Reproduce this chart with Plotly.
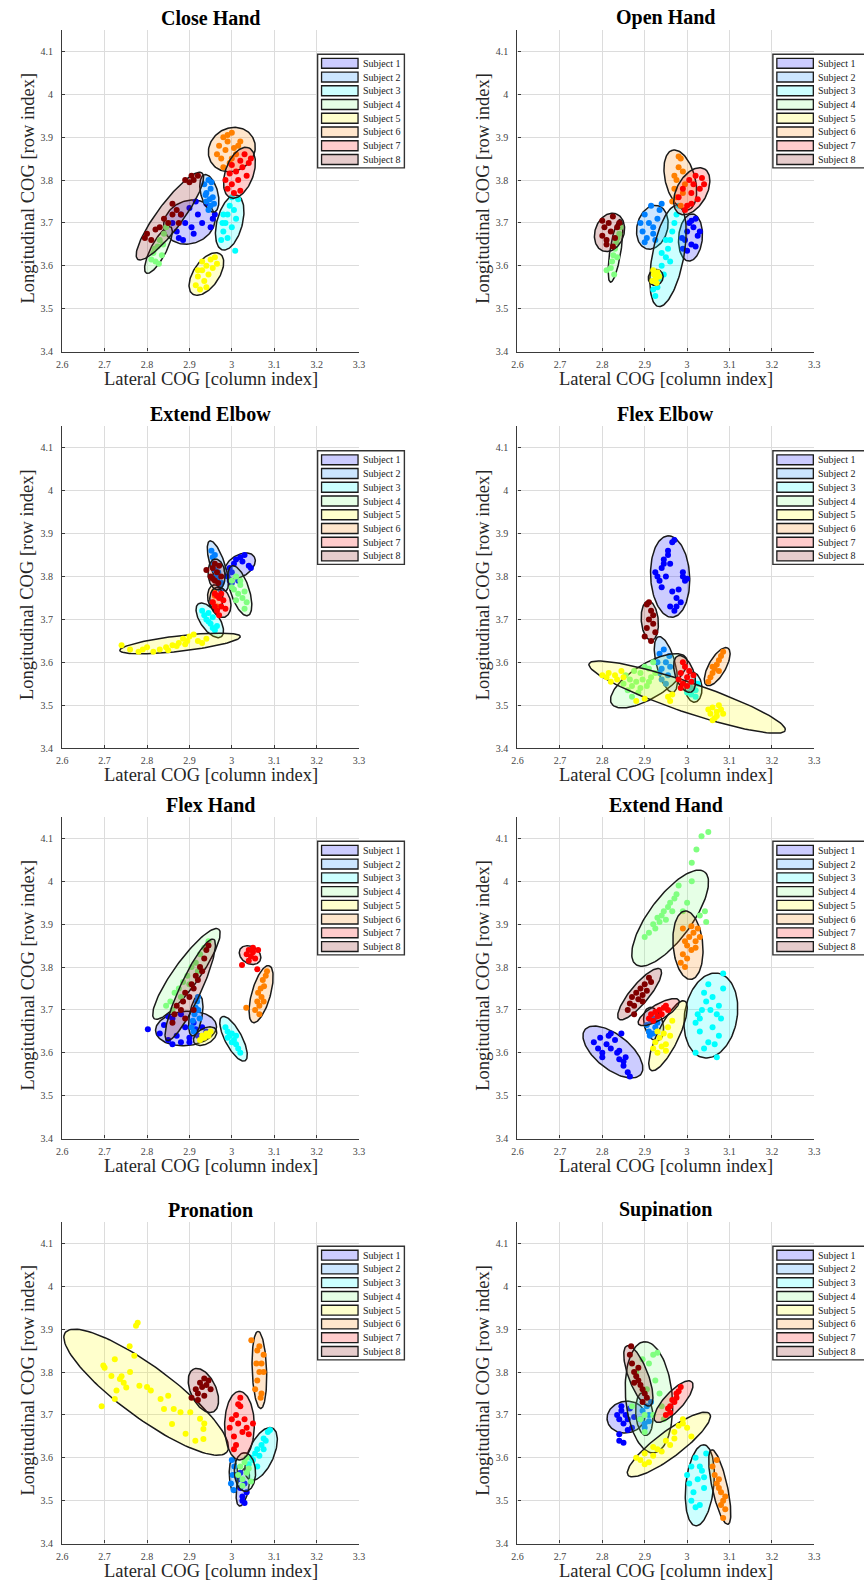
import numpy as np
import plotly.graph_objects as go

# ---------------- data ----------------
GESTURES = ["Close Hand", "Open Hand", "Extend Elbow", "Flex Elbow",
            "Flex Hand", "Extend Hand", "Pronation", "Supination"]
SUBJECTS = ["Subject 1", "Subject 2", "Subject 3", "Subject 4",
            "Subject 5", "Subject 6", "Subject 7", "Subject 8"]
SUBJECT_RGB = [(0, 0, 255), (0, 128, 255), (0, 255, 255), (128, 255, 128),
               (255, 255, 0), (255, 128, 0), (255, 0, 0), (128, 0, 0)]

X_TICKS = [2.6, 2.7, 2.8, 2.9, 3.0, 3.1, 3.2, 3.3]
X_TICK_TEXT = ["2.6", "2.7", "2.8", "2.9", "3", "3.1", "3.2", "3.3"]
Y_TICKS = [3.4, 3.5, 3.6, 3.7, 3.8, 3.9, 4.0, 4.1]
Y_TICK_TEXT = ["3.4", "3.5", "3.6", "3.7", "3.8", "3.9", "4", "4.1"]
X_RANGE = [2.6, 3.3]
Y_RANGE = [3.4, 4.15]
X_LABEL = "Lateral COG [column index]"
Y_LABEL = "Longitudinal COG [row index]"

# confidence ellipses per subject: (centre x, centre y, semi-major, semi-minor, angle deg)
ELL_CLOSE_HAND = [(2.900, 3.702, 0.062, 0.050, 20), (2.947, 3.769, 0.045, 0.020, 105),
                  (2.995, 3.701, 0.066, 0.030, 75), (2.827, 3.637, 0.061, 0.018, 62),
                  (2.940, 3.581, 0.057, 0.030, 55), (3.000, 3.871, 0.057, 0.050, 30),
                  (3.018, 3.817, 0.062, 0.033, 70), (2.854, 3.716, 0.126, 0.030, 53)]
ELL_OPEN_HAND = [(3.008, 3.666, 0.055, 0.028, 85), (2.918, 3.690, 0.052, 0.036, 75),
                 (2.955, 3.623, 0.120, 0.037, 79), (2.831, 3.635, 0.074, 0.013, 81),
                 (2.926, 3.573, 0.019, 0.017, 60), (2.984, 3.800, 0.072, 0.035, 105),
                 (3.011, 3.774, 0.060, 0.035, 60), (2.817, 3.678, 0.046, 0.034, 70)]
ELL_EXTEND_ELBOW = [(3.019, 3.825, 0.040, 0.025, 32), (2.967, 3.825, 0.061, 0.017, 108),
                    (2.948, 3.698, 0.047, 0.022, 125), (3.019, 3.767, 0.061, 0.022, 108),
                    (2.878, 3.644, 0.143, 0.018, 6.5), (2.961, 3.751, 0.030, 0.018, 95),
                    (2.973, 3.740, 0.036, 0.024, 105), (2.964, 3.805, 0.036, 0.020, 95)]
ELL_FLEX_ELBOW = [(2.960, 3.800, 0.095, 0.046, 93), (2.950, 3.595, 0.067, 0.022, 105),
                  (3.015, 3.542, 0.035, 0.020, 95), (2.910, 3.557, 0.103, 0.040, 31),
                  (3.000, 3.519, 0.244, 0.035, -18.5), (3.071, 3.590, 0.050, 0.020, 60),
                  (2.994, 3.573, 0.045, 0.022, 110), (2.912, 3.697, 0.046, 0.020, 95)]
ELL_FLEX_HAND = [(2.892, 3.657, 0.072, 0.040, 5), (2.915, 3.687, 0.048, 0.015, 80),
                 (3.004, 3.633, 0.058, 0.020, 118), (2.893, 3.784, 0.129, 0.030, 54),
                 (2.937, 3.639, 0.030, 0.018, 30), (3.069, 3.737, 0.069, 0.022, 74),
                 (3.043, 3.828, 0.027, 0.020, -30), (2.902, 3.747, 0.130, 0.025, 65)]
ELL_EXTEND_HAND = [(2.825, 3.602, 0.084, 0.040, -38), (2.921, 3.667, 0.040, 0.022, 105),
                   (3.056, 3.687, 0.100, 0.062, 80), (2.960, 3.914, 0.135, 0.050, 53),
                   (2.955, 3.640, 0.090, 0.025, 64), (3.002, 3.851, 0.080, 0.035, 95),
                   (2.933, 3.695, 0.055, 0.018, 30), (2.888, 3.737, 0.076, 0.022, 50)]
ELL_PRONATION = [(3.026, 3.532, 0.045, 0.014, 80), (3.004, 3.559, 0.040, 0.010, 92),
                 (3.069, 3.609, 0.066, 0.030, 66), (3.031, 3.567, 0.045, 0.025, 92),
                 (2.798, 3.753, 0.236, 0.060, -36), (3.065, 3.805, 0.090, 0.017, 92),
                 (3.018, 3.675, 0.080, 0.035, 90), (2.933, 3.757, 0.055, 0.030, 115)]
ELL_SUPINATION = [(2.856, 3.695, 0.045, 0.037, 10), (2.899, 3.702, 0.050, 0.020, 95),
                  (3.030, 3.536, 0.095, 0.033, 84), (2.910, 3.741, 0.130, 0.055, 95),
                  (2.957, 3.631, 0.120, 0.030, 36.5), (3.077, 3.532, 0.089, 0.018, 102.5),
                  (2.968, 3.731, 0.063, 0.022, 47), (2.885, 3.791, 0.075, 0.023, 111)]

# centre-of-gravity samples per subject
PTS_X_CLOSE_HAND = [
    [2.86, 2.87, 2.88, 2.885, 2.89, 2.90, 2.905, 2.91, 2.92, 2.93, 2.94, 2.95, 2.955, 2.96, 2.875, 2.915],
    [2.935, 2.94, 2.945, 2.95, 2.94, 2.955, 2.95, 2.945, 2.958, 2.938, 2.952, 2.948],
    [2.975, 2.98, 2.985, 2.99, 2.995, 3.0, 3.005, 3.01, 3.015, 2.98, 2.99, 3.0, 3.008, 2.978],
    [2.81, 2.815, 2.82, 2.825, 2.83, 2.835, 2.84, 2.845, 2.85, 2.828, 2.838, 2.818],
    [2.915, 2.92, 2.925, 2.93, 2.935, 2.94, 2.945, 2.95, 2.955, 2.96, 2.93, 2.94, 2.965, 2.92],
    [2.965, 2.97, 2.975, 2.98, 2.985, 2.99, 2.995, 3.0, 3.005, 3.01, 3.02, 2.98, 2.99, 3.0, 3.015],
    [2.985, 2.99, 2.995, 3.0, 3.005, 3.01, 3.015, 3.02, 3.025, 3.03, 3.035, 3.04, 3.045, 3.0, 3.02],
    [2.795, 2.80, 2.81, 2.82, 2.83, 2.84, 2.85, 2.86, 2.87, 2.88, 2.89, 2.90, 2.905, 2.91, 2.92, 2.86, 2.875]]
PTS_Y_CLOSE_HAND = [
    [3.70, 3.68, 3.72, 3.66, 3.70, 3.735, 3.69, 3.675, 3.72, 3.70, 3.745, 3.69, 3.71, 3.72, 3.665, 3.75],
    [3.79, 3.77, 3.80, 3.78, 3.75, 3.76, 3.74, 3.73, 3.745, 3.765, 3.795, 3.755],
    [3.66, 3.68, 3.70, 3.72, 3.74, 3.76, 3.73, 3.71, 3.755, 3.72, 3.665, 3.69, 3.635, 3.70],
    [3.615, 3.63, 3.61, 3.645, 3.66, 3.625, 3.675, 3.69, 3.70, 3.605, 3.65, 3.64],
    [3.555, 3.575, 3.545, 3.59, 3.565, 3.60, 3.58, 3.615, 3.595, 3.62, 3.61, 3.55, 3.605, 3.59],
    [3.86, 3.88, 3.85, 3.90, 3.87, 3.89, 3.84, 3.91, 3.875, 3.86, 3.89, 3.83, 3.905, 3.85, 3.88],
    [3.80, 3.78, 3.815, 3.79, 3.77, 3.82, 3.80, 3.845, 3.83, 3.86, 3.81, 3.84, 3.85, 3.835, 3.775],
    [3.665, 3.675, 3.66, 3.685, 3.69, 3.71, 3.70, 3.72, 3.73, 3.72, 3.80, 3.795, 3.81, 3.80, 3.81, 3.745, 3.70]]

PTS_X_OPEN_HAND = [
    [2.99, 2.995, 3.0, 3.005, 3.01, 3.015, 3.02, 3.025, 3.03, 3.0, 3.01, 3.02, 2.988],
    [2.89, 2.895, 2.90, 2.905, 2.91, 2.915, 2.92, 2.925, 2.93, 2.935, 2.94, 2.90, 2.92],
    [2.925, 2.93, 2.935, 2.94, 2.945, 2.95, 2.955, 2.96, 2.965, 2.97, 2.975, 2.94, 2.96, 2.95, 2.92, 2.98],
    [2.82, 2.823, 2.826, 2.83, 2.833, 2.836, 2.84, 2.843, 2.828, 2.835, 2.81],
    [2.918, 2.922, 2.926, 2.93, 2.934, 2.92, 2.928],
    [2.965, 2.97, 2.975, 2.98, 2.985, 2.99, 2.995, 2.975, 2.985, 2.97, 2.98, 2.99],
    [2.98, 2.99, 3.0, 3.005, 3.01, 3.015, 3.02, 3.025, 3.03, 3.04, 2.995, 3.01, 3.035],
    [2.80, 2.805, 2.81, 2.815, 2.82, 2.825, 2.83, 2.835, 2.84, 2.81, 2.825, 2.80]]
PTS_Y_OPEN_HAND = [
    [3.64, 3.66, 3.68, 3.70, 3.65, 3.69, 3.71, 3.67, 3.68, 3.635, 3.705, 3.645, 3.665],
    [3.70, 3.68, 3.72, 3.665, 3.70, 3.74, 3.69, 3.66, 3.71, 3.73, 3.745, 3.655, 3.675],
    [3.53, 3.55, 3.57, 3.60, 3.58, 3.62, 3.64, 3.66, 3.68, 3.70, 3.72, 3.63, 3.61, 3.66, 3.545, 3.74],
    [3.595, 3.61, 3.625, 3.64, 3.655, 3.665, 3.675, 3.69, 3.58, 3.62, 3.59],
    [3.565, 3.58, 3.57, 3.585, 3.575, 3.59, 3.56],
    [3.75, 3.78, 3.80, 3.83, 3.85, 3.82, 3.79, 3.76, 3.74, 3.81, 3.855, 3.77],
    [3.76, 3.78, 3.74, 3.80, 3.77, 3.79, 3.81, 3.755, 3.78, 3.79, 3.73, 3.745, 3.805],
    [3.67, 3.69, 3.66, 3.70, 3.68, 3.715, 3.665, 3.69, 3.70, 3.65, 3.645, 3.705]]

PTS_X_EXTEND_ELBOW = [
    [2.99, 2.995, 3.0, 3.005, 3.01, 3.02, 3.03, 3.04, 3.045, 3.0, 3.015, 3.025, 2.995],
    [2.952, 2.955, 2.958, 2.96, 2.963, 2.966, 2.97, 2.973, 2.976, 2.96, 2.968],
    [2.93, 2.935, 2.94, 2.945, 2.95, 2.955, 2.96, 2.965, 2.945, 2.955],
    [3.0, 3.005, 3.01, 3.015, 3.02, 3.025, 3.03, 3.035, 3.01, 3.02, 3.03, 3.0],
    [2.74, 2.76, 2.78, 2.79, 2.80, 2.815, 2.83, 2.845, 2.86, 2.875, 2.885, 2.895, 2.90, 2.91, 2.92, 2.93, 2.94, 2.85, 2.87, 2.89],
    [2.955, 2.96, 2.965, 2.958],
    [2.955, 2.96, 2.965, 2.97, 2.975, 2.98, 2.985, 2.96, 2.975, 2.97, 2.965],
    [2.95, 2.955, 2.96, 2.965, 2.97, 2.975, 2.96, 2.968, 2.94, 2.955]]
PTS_Y_EXTEND_ELBOW = [
    [3.80, 3.82, 3.785, 3.83, 3.84, 3.845, 3.85, 3.825, 3.82, 3.81, 3.79, 3.835, 3.79],
    [3.86, 3.845, 3.83, 3.815, 3.80, 3.79, 3.78, 3.77, 3.785, 3.85, 3.81],
    [3.72, 3.71, 3.70, 3.715, 3.69, 3.68, 3.675, 3.685, 3.695, 3.705],
    [3.79, 3.77, 3.80, 3.76, 3.78, 3.75, 3.765, 3.74, 3.745, 3.79, 3.725, 3.775],
    [3.64, 3.63, 3.625, 3.63, 3.635, 3.625, 3.63, 3.635, 3.64, 3.645, 3.655, 3.65, 3.66, 3.665, 3.65, 3.645, 3.655, 3.628, 3.638, 3.642],
    [3.74, 3.755, 3.73, 3.765],
    [3.74, 3.76, 3.72, 3.75, 3.73, 3.745, 3.725, 3.73, 3.76, 3.71, 3.755],
    [3.80, 3.82, 3.79, 3.81, 3.825, 3.80, 3.83, 3.785, 3.815, 3.795]]

PTS_X_FLEX_ELBOW = [
    [2.925, 2.93, 2.935, 2.94, 2.945, 2.95, 2.955, 2.96, 2.965, 2.97, 2.975, 2.98, 2.985, 2.99, 2.995, 3.0, 2.94, 2.96, 2.97, 2.99, 2.955, 2.965, 2.975, 2.945],
    [2.93, 2.935, 2.94, 2.945, 2.95, 2.955, 2.96, 2.94, 2.95, 2.958, 2.935],
    [3.0, 3.005, 3.01, 3.015, 3.02, 3.025, 3.01, 3.02],
    [2.85, 2.855, 2.86, 2.865, 2.87, 2.875, 2.88, 2.885, 2.89, 2.895, 2.90, 2.905, 2.91, 2.915, 2.92, 2.925, 2.87, 2.89, 2.91],
    [2.80, 2.81, 2.815, 2.82, 2.83, 2.835, 2.845, 2.85, 2.955, 2.96, 2.965, 3.05, 3.055, 3.06, 3.065, 3.07, 3.075, 3.08, 3.085, 3.06, 3.07, 2.88, 2.90],
    [3.05, 3.055, 3.06, 3.065, 3.07, 3.075, 3.08, 3.085, 3.06, 3.075],
    [2.98, 2.985, 2.99, 2.995, 3.0, 3.005, 3.01, 2.99, 3.0, 2.985, 3.015],
    [2.90, 2.905, 2.91, 2.915, 2.92, 2.925, 2.905, 2.915, 2.92, 2.91]]
PTS_Y_FLEX_ELBOW = [
    [3.81, 3.80, 3.79, 3.82, 3.84, 3.80, 3.86, 3.83, 3.88, 3.885, 3.75, 3.77, 3.74, 3.80, 3.79, 3.795, 3.775, 3.73, 3.72, 3.81, 3.85, 3.765, 3.73, 3.83],
    [3.60, 3.62, 3.585, 3.63, 3.60, 3.57, 3.59, 3.56, 3.55, 3.615, 3.575],
    [3.53, 3.545, 3.525, 3.555, 3.535, 3.55, 3.54, 3.52],
    [3.55, 3.57, 3.535, 3.56, 3.545, 3.58, 3.555, 3.53, 3.575, 3.56, 3.59, 3.545, 3.585, 3.565, 3.60, 3.575, 3.52, 3.54, 3.555],
    [3.57, 3.565, 3.575, 3.555, 3.57, 3.56, 3.58, 3.565, 3.52, 3.51, 3.525, 3.49, 3.48, 3.495, 3.47, 3.485, 3.50, 3.49, 3.48, 3.465, 3.475, 3.51, 3.515],
    [3.555, 3.565, 3.575, 3.585, 3.595, 3.605, 3.615, 3.625, 3.59, 3.58],
    [3.56, 3.575, 3.55, 3.59, 3.565, 3.58, 3.555, 3.60, 3.545, 3.54, 3.57],
    [3.66, 3.68, 3.70, 3.72, 3.69, 3.67, 3.735, 3.65, 3.71, 3.74]]

PTS_X_FLEX_HAND = [
    [2.802, 2.83, 2.84, 2.85, 2.86, 2.87, 2.88, 2.89, 2.90, 2.91, 2.92, 2.93, 2.94, 2.86, 2.88, 2.90, 2.85, 2.915],
    [2.905, 2.908, 2.912, 2.915, 2.918, 2.921, 2.924, 2.91, 2.92],
    [2.985, 2.99, 2.995, 3.0, 3.005, 3.01, 3.015, 3.02, 3.0, 3.01, 2.99],
    [2.845, 2.855, 2.865, 2.875, 2.885, 2.895, 2.905, 2.915, 2.925, 2.935, 2.945, 2.86, 2.88, 2.90, 2.92],
    [2.925, 2.93, 2.935, 2.94, 2.945, 2.95],
    [3.055, 3.06, 3.062, 3.065, 3.068, 3.07, 3.073, 3.076, 3.08, 3.083, 3.065, 3.075, 3.034],
    [3.035, 3.04, 3.045, 3.05, 3.055, 3.04, 3.05, 3.024, 3.062, 3.06],
    [2.86, 2.865, 2.87, 2.88, 2.885, 2.89, 2.90, 2.905, 2.91, 2.915, 2.92, 2.925, 2.93, 2.935, 2.94, 2.945, 2.89, 2.91]]
PTS_Y_FLEX_HAND = [
    [3.655, 3.645, 3.665, 3.63, 3.68, 3.64, 3.625, 3.66, 3.635, 3.67, 3.64, 3.66, 3.65, 3.62, 3.69, 3.625, 3.685, 3.655],
    [3.66, 3.675, 3.69, 3.705, 3.72, 3.70, 3.68, 3.65, 3.73],
    [3.66, 3.65, 3.64, 3.645, 3.63, 3.62, 3.61, 3.60, 3.625, 3.64, 3.635],
    [3.71, 3.72, 3.74, 3.75, 3.765, 3.78, 3.80, 3.81, 3.83, 3.845, 3.86, 3.70, 3.73, 3.76, 3.79],
    [3.63, 3.64, 3.635, 3.645, 3.64, 3.65],
    [3.70, 3.72, 3.74, 3.71, 3.75, 3.73, 3.77, 3.755, 3.78, 3.79, 3.69, 3.72, 3.705],
    [3.83, 3.84, 3.825, 3.835, 3.82, 3.815, 3.845, 3.805, 3.84, 3.795],
    [3.67, 3.69, 3.71, 3.70, 3.72, 3.74, 3.73, 3.76, 3.75, 3.78, 3.77, 3.80, 3.79, 3.82, 3.84, 3.85, 3.68, 3.70]]

PTS_X_EXTEND_HAND = [
    [2.78, 2.79, 2.795, 2.80, 2.81, 2.815, 2.82, 2.83, 2.835, 2.84, 2.845, 2.85, 2.855, 2.86, 2.865, 2.80, 2.82, 2.84, 2.85],
    [2.905, 2.91, 2.915, 2.92, 2.925, 2.93, 2.912, 2.922],
    [3.02, 3.025, 3.03, 3.035, 3.04, 3.045, 3.05, 3.055, 3.06, 3.065, 3.07, 3.075, 3.08, 3.085, 3.02, 3.04, 3.06, 3.075, 3.07, 3.085, 3.05, 3.03],
    [2.90, 2.91, 2.92, 2.925, 2.93, 2.935, 2.94, 2.945, 2.95, 2.955, 2.96, 2.965, 2.97, 2.975, 2.98, 2.99, 3.0, 3.011, 3.022, 3.034, 3.05, 3.042, 3.045, 3.011, 3.03],
    [2.92, 2.925, 2.93, 2.935, 2.94, 2.945, 2.95, 2.955, 2.96, 2.965, 2.93, 2.95],
    [2.985, 2.99, 2.995, 3.0, 3.005, 3.01, 3.015, 3.02, 3.025, 3.03, 2.99, 3.0, 3.01, 3.02, 2.995],
    [2.91, 2.915, 2.92, 2.925, 2.93, 2.935, 2.94, 2.945, 2.95, 2.955],
    [2.86, 2.865, 2.87, 2.875, 2.88, 2.885, 2.89, 2.895, 2.90, 2.905, 2.91, 2.915, 2.875, 2.895]]
PTS_Y_EXTEND_HAND = [
    [3.625, 3.61, 3.635, 3.60, 3.62, 3.64, 3.61, 3.63, 3.60, 3.585, 3.645, 3.57, 3.59, 3.555, 3.545, 3.59, 3.645, 3.605, 3.58],
    [3.665, 3.65, 3.675, 3.645, 3.66, 3.67, 3.64, 3.68],
    [3.67, 3.69, 3.65, 3.70, 3.74, 3.72, 3.76, 3.70, 3.66, 3.62, 3.69, 3.71, 3.68, 3.785, 3.60, 3.61, 3.73, 3.64, 3.59, 3.75, 3.625, 3.68],
    [3.87, 3.88, 3.90, 3.89, 3.915, 3.905, 3.92, 3.93, 3.91, 3.94, 3.95, 3.93, 3.96, 3.97, 3.99, 3.93, 3.95, 4.0, 4.074, 4.105, 4.115, 3.93, 3.905, 4.043, 3.92],
    [3.61, 3.625, 3.60, 3.635, 3.615, 3.645, 3.62, 3.66, 3.64, 3.675, 3.65, 3.605],
    [3.81, 3.83, 3.80, 3.85, 3.87, 3.84, 3.88, 3.86, 3.89, 3.87, 3.89, 3.82, 3.895, 3.845, 3.86],
    [3.68, 3.69, 3.675, 3.695, 3.685, 3.70, 3.69, 3.705, 3.71, 3.70],
    [3.70, 3.715, 3.73, 3.71, 3.74, 3.725, 3.75, 3.735, 3.76, 3.745, 3.775, 3.765, 3.69, 3.72]]

PTS_X_PRONATION = [
    [3.015, 3.02, 3.025, 3.03, 3.035, 3.02, 3.03, 3.025, 3.01],
    [2.998, 3.002, 3.006, 3.0, 3.004],
    [3.04, 3.045, 3.05, 3.055, 3.06, 3.065, 3.07, 3.075, 3.08, 3.085, 3.09, 3.06, 3.075],
    [3.015, 3.02, 3.025, 3.03, 3.035, 3.04, 3.045, 3.025, 3.035],
    [2.697, 2.70, 2.693, 2.724, 2.736, 2.724, 2.745, 2.759, 2.774, 2.778, 2.77, 2.782, 2.809, 2.832, 2.84, 2.863,
     2.859, 2.879, 2.891, 2.902, 2.925, 2.933, 2.933, 2.914, 2.728, 2.751, 2.716, 2.74, 2.76, 2.80, 2.85, 2.935],
    [3.055, 3.06, 3.065, 3.07, 3.075, 3.06, 3.07, 3.065, 3.075, 3.058, 3.046, 3.068],
    [2.995, 3.0, 3.005, 3.01, 3.015, 3.02, 3.025, 3.03, 3.035, 3.04, 3.05, 3.01, 3.02, 3.015, 3.005],
    [2.905, 2.915, 2.92, 2.925, 2.93, 2.935, 2.94, 2.945, 2.92, 2.935, 2.95]]
PTS_Y_PRONATION = [
    [3.55, 3.53, 3.51, 3.495, 3.52, 3.565, 3.54, 3.50, 3.56],
    [3.54, 3.56, 3.58, 3.595, 3.525],
    [3.585, 3.60, 3.595, 3.61, 3.62, 3.605, 3.63, 3.645, 3.64, 3.66, 3.665, 3.58, 3.62],
    [3.56, 3.58, 3.55, 3.59, 3.565, 3.575, 3.545, 3.535, 3.60],
    [3.815, 3.81, 3.72, 3.83, 3.784, 3.737, 3.775, 3.86, 3.908, 3.915, 3.838, 3.768, 3.757, 3.737, 3.714, 3.714,
     3.679, 3.706, 3.656, 3.706, 3.691, 3.644, 3.667, 3.64, 3.757, 3.764, 3.791, 3.79, 3.80, 3.765, 3.745, 3.68],
    [3.76, 3.78, 3.80, 3.82, 3.84, 3.85, 3.75, 3.86, 3.80, 3.82, 3.874, 3.74],
    [3.67, 3.69, 3.65, 3.70, 3.68, 3.72, 3.66, 3.69, 3.67, 3.655, 3.68, 3.63, 3.74, 3.725, 3.62],
    [3.74, 3.76, 3.75, 3.775, 3.765, 3.785, 3.77, 3.78, 3.735, 3.745, 3.76]]

PTS_X_SUPINATION = [
    [2.835, 2.84, 2.845, 2.85, 2.855, 2.86, 2.865, 2.87, 2.875, 2.84, 2.85, 2.84, 2.845, 2.86],
    [2.89, 2.895, 2.90, 2.905, 2.91, 2.915, 2.90, 2.91],
    [3.0, 3.005, 3.01, 3.015, 3.02, 3.025, 3.03, 3.035, 3.04, 3.045, 3.01, 3.03, 3.02, 3.04],
    [2.87, 2.88, 2.89, 2.895, 2.90, 2.905, 2.91, 2.92, 2.925, 2.93, 2.935, 2.94, 2.945, 2.90, 2.92],
    [2.88, 2.89, 2.90, 2.91, 2.92, 2.93, 2.94, 2.95, 2.96, 2.97, 2.98, 2.99, 3.0, 3.01, 2.90, 2.92, 2.97, 2.99],
    [3.06, 3.065, 3.07, 3.075, 3.08, 3.085, 3.09, 3.075, 3.085, 3.07, 3.08, 3.09],
    [2.95, 2.955, 2.96, 2.965, 2.97, 2.975, 2.98, 2.985, 2.96, 2.975],
    [2.865, 2.87, 2.875, 2.88, 2.885, 2.89, 2.895, 2.90, 2.905, 2.875, 2.885, 2.895, 2.868]]
PTS_Y_SUPINATION = [
    [3.70, 3.69, 3.71, 3.68, 3.70, 3.69, 3.715, 3.67, 3.695, 3.64, 3.635, 3.655, 3.72, 3.665],
    [3.69, 3.71, 3.68, 3.72, 3.70, 3.73, 3.67, 3.685],
    [3.56, 3.54, 3.58, 3.52, 3.60, 3.55, 3.49, 3.57, 3.53, 3.61, 3.50, 3.58, 3.485, 3.555],
    [3.72, 3.80, 3.69, 3.83, 3.70, 3.76, 3.82, 3.84, 3.78, 3.845, 3.75, 3.72, 3.69, 3.66, 3.70],
    [3.60, 3.595, 3.61, 3.59, 3.605, 3.62, 3.615, 3.64, 3.63, 3.66, 3.675, 3.68, 3.67, 3.65, 3.585, 3.625, 3.645, 3.69],
    [3.58, 3.56, 3.54, 3.55, 3.52, 3.50, 3.48, 3.53, 3.46, 3.595, 3.49, 3.51],
    [3.70, 3.715, 3.72, 3.735, 3.73, 3.75, 3.755, 3.765, 3.705, 3.74],
    [3.84, 3.82, 3.80, 3.79, 3.78, 3.77, 3.76, 3.75, 3.74, 3.775, 3.81, 3.73, 3.86]]

ELLIPSES = [ELL_CLOSE_HAND, ELL_OPEN_HAND, ELL_EXTEND_ELBOW, ELL_FLEX_ELBOW,
            ELL_FLEX_HAND, ELL_EXTEND_HAND, ELL_PRONATION, ELL_SUPINATION]
POINTS_X = [PTS_X_CLOSE_HAND, PTS_X_OPEN_HAND, PTS_X_EXTEND_ELBOW, PTS_X_FLEX_ELBOW,
            PTS_X_FLEX_HAND, PTS_X_EXTEND_HAND, PTS_X_PRONATION, PTS_X_SUPINATION]
POINTS_Y = [PTS_Y_CLOSE_HAND, PTS_Y_OPEN_HAND, PTS_Y_EXTEND_ELBOW, PTS_Y_FLEX_ELBOW,
            PTS_Y_FLEX_HAND, PTS_Y_EXTEND_HAND, PTS_Y_PRONATION, PTS_Y_SUPINATION]

# ---------------- layout (pixels) ----------------
W, H = 864, 1589
AX_LEFT = [57, 518.7]
AX_TOP = [30, 428, 820, 1226.5]
AX_W, AX_H = 301, 323
LEGEND_W = [88, 96]
SERIF = "Liberation Serif, Times New Roman, serif"


def fx(px):
    return px / W


def fy(py):
    return 1 - py / H


def rgba(c, a):
    return f"rgba({c[0]},{c[1]},{c[2]},{a})"


def ellipse_outline(cx, cy, a, b, ang):
    t = np.linspace(0, 2 * np.pi, 120)
    th = np.deg2rad(ang)
    ex = cx + a * np.cos(t) * np.cos(th) - b * np.sin(t) * np.sin(th)
    ey = cy + a * np.cos(t) * np.sin(th) + b * np.sin(t) * np.cos(th)
    return ex, ey


fig = go.Figure()
layout = dict(width=W, height=H, margin=dict(l=0, r=0, t=0, b=0),
              paper_bgcolor="white", plot_bgcolor="white", showlegend=False,
              font=dict(family=SERIF, color="#262626"))
annotations = []
shapes = []

for i, gesture in enumerate(GESTURES):
    k = i + 1
    row, col = divmod(i, 2)
    left, top = AX_LEFT[col], AX_TOP[row]
    xa = "x" if k == 1 else f"x{k}"
    ya = "y" if k == 1 else f"y{k}"
    common = dict(showgrid=True, gridcolor="#dcdcdc", gridwidth=1.2, zeroline=False,
                  showline=True, linecolor="#3a3a3a", linewidth=1.4, mirror=False,
                  ticks="inside", ticklen=3, tickcolor="#3a3a3a",
                  tickfont=dict(family=SERIF, size=10, color="#444444"), fixedrange=True)
    layout["xaxis" if k == 1 else f"xaxis{k}"] = dict(
        domain=[fx(left), fx(left + AX_W)], range=X_RANGE, anchor=ya,
        tickmode="array", tickvals=X_TICKS, ticktext=X_TICK_TEXT, ticklabelstandoff=3, **common)
    layout["yaxis" if k == 1 else f"yaxis{k}"] = dict(
        domain=[fy(top + AX_H), fy(top)], range=Y_RANGE, anchor=xa,
        tickmode="array", tickvals=Y_TICKS, ticktext=Y_TICK_TEXT, ticklabelstandoff=6, **common)

    for s in range(len(SUBJECTS)):
        cx, cy, a, b, ang = ELLIPSES[i][s]
        ex, ey = ellipse_outline(cx, cy, a, b, ang)
        fig.add_trace(go.Scatter(x=ex, y=ey, mode="lines", fill="toself",
                                 fillcolor=rgba(SUBJECT_RGB[s], 0.2),
                                 line=dict(color="#1a1a1a", width=1.5),
                                 hoverinfo="skip", xaxis=xa, yaxis=ya, name=SUBJECTS[s]))
        fig.add_trace(go.Scatter(x=POINTS_X[i][s], y=POINTS_Y[i][s], mode="markers",
                                 marker=dict(color=rgba(SUBJECT_RGB[s], 1), size=6),
                                 xaxis=xa, yaxis=ya, name=SUBJECTS[s]))

    # titles
    annotations.append(dict(text=gesture, x=fx(left + AX_W / 2), y=fy(top - 12),
                            xref="paper", yref="paper", showarrow=False,
                            xanchor="center", yanchor="middle",
                            font=dict(family=SERIF, size=20, color="black", weight="bold")))
    annotations.append(dict(text=X_LABEL, x=fx(left + AX_W / 2), y=fy(top + AX_H + 27),
                            xref="paper", yref="paper", showarrow=False,
                            xanchor="center", yanchor="middle",
                            font=dict(family=SERIF, size=18.5, color="#262626")))
    annotations.append(dict(text=Y_LABEL, x=fx(left - 35), y=fy(top + AX_H / 2 - 3),
                            xref="paper", yref="paper", showarrow=False, textangle=-90,
                            xanchor="center", yanchor="middle",
                            font=dict(family=SERIF, size=18.5, color="#262626")))

    # legend box
    bx0, by0 = left + 259, top + 24.5
    shapes.append(dict(type="rect", xref="paper", yref="paper",
                       x0=fx(bx0), x1=fx(bx0 + LEGEND_W[col]), y0=fy(by0), y1=fy(by0 + 114),
                       line=dict(color="#333333", width=1.4), fillcolor="white"))
    for s, name in enumerate(SUBJECTS):
        cyp = by0 + 9 + s * 13.8
        shapes.append(dict(type="rect", xref="paper", yref="paper",
                           x0=fx(bx0 + 4), x1=fx(bx0 + 41), y0=fy(cyp - 5), y1=fy(cyp + 5),
                           line=dict(color="#1a1a1a", width=1.3),
                           fillcolor=rgba(SUBJECT_RGB[s], 0.2)))
        annotations.append(dict(text=name, x=fx(bx0 + 44), y=fy(cyp),
                                xref="paper", yref="paper", showarrow=False,
                                xanchor="left", yanchor="middle",
                                font=dict(family=SERIF, size=10, color="#1a1a1a")))

layout["annotations"] = annotations
layout["shapes"] = shapes
fig.update_layout(**layout)
fig.write_html("out.html")
